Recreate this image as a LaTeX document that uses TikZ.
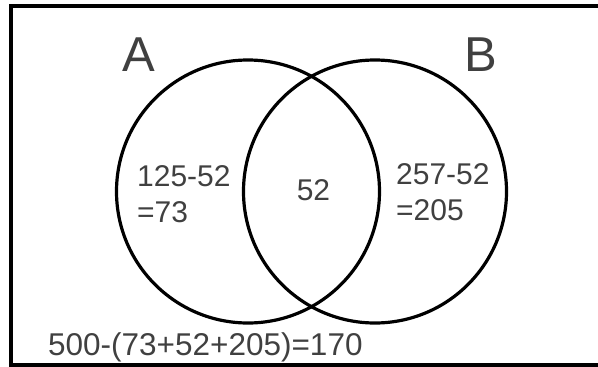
\documentclass[tikz,border=0pt]{standalone}
\usepackage{fontspec}
\setmainfont{Liberation Sans}
\definecolor{labelgray}{RGB}{64,64,64}
\begin{document}
\begin{tikzpicture}[x=1pt,y=-1pt,
        setcircle/.style={draw,circle,line width=3.2pt,minimum size=263pt,inner sep=0pt},
        setname/.style={text=labelgray,font=\fontsize{49}{59}\selectfont,inner sep=0pt},
        count/.style={text=labelgray,font=\fontsize{30}{36}\selectfont,inner sep=0pt,align=left}]
        \useasboundingbox (0,0) rectangle (598,367);
        \clip (0,0) rectangle (598,367);
        \draw[line width=4.5pt] (11,6) rectangle (610,365);
        \node (setA) [setcircle] at (248,191.5) {};
        \node (setB) [setcircle] at (375,191.5) {};
        \node (nameA) [setname] at (139,54.5) {A};
        \node (nameB) [setname] at (480.5,54.5) {B};
        \node (onlyA) [count, anchor=north west] at (137,165) {125-52\\=73};
        \node (both) [count] at (313.5,190) {52};
        \node (onlyB) [count, anchor=north west] at (396,163) {257-52\\=205};
        \node (rest) [count, font=\fontsize{31.5}{38}\selectfont, anchor=base west] at (48,355) {500-(73+52+205)=170};
    \end{tikzpicture}
\end{document}
